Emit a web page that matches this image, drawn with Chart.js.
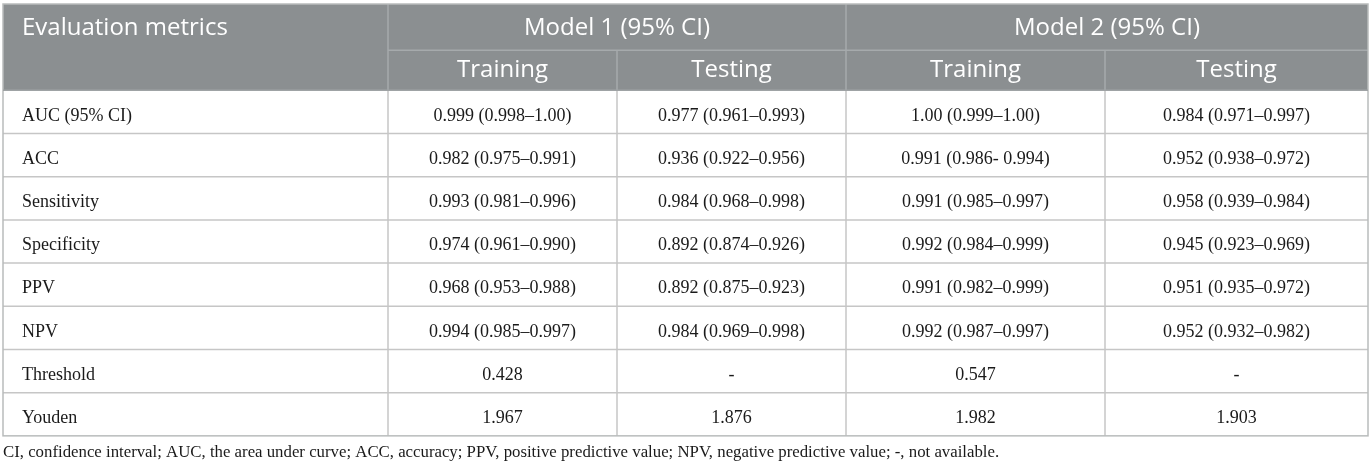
<!DOCTYPE html>
<html>
<head>
<meta charset="utf-8">
<script src="https://cdn.jsdelivr.net/npm/chart.js@4.4.0/dist/chart.umd.min.js"></script>
<style>
  html, body { margin: 0; padding: 0; background: #fff; }
  #wrap { width: 1372px; height: 467px; }
</style>
</head>
<body>
<div id="wrap"><canvas id="table-canvas"></canvas></div>
<script>
// table content
var metrics = ["AUC (95% CI)", "ACC", "Sensitivity", "Specificity", "PPV", "NPV", "Threshold", "Youden"];
var firstHeader = "Evaluation metrics";
var groups = ["Model 1 (95% CI)", "Model 2 (95% CI)"];
var phases = ["Training", "Testing", "Training", "Testing"];
var model1Training = ["0.999 (0.998\u20131.00)", "0.982 (0.975\u20130.991)", "0.993 (0.981\u20130.996)", "0.974 (0.961\u20130.990)", "0.968 (0.953\u20130.988)", "0.994 (0.985\u20130.997)", "0.428", "1.967"];
var model1Testing = ["0.977 (0.961\u20130.993)", "0.936 (0.922\u20130.956)", "0.984 (0.968\u20130.998)", "0.892 (0.874\u20130.926)", "0.892 (0.875\u20130.923)", "0.984 (0.969\u20130.998)", "-", "1.876"];
var model2Training = ["1.00 (0.999\u20131.00)", "0.991 (0.986- 0.994)", "0.991 (0.985\u20130.997)", "0.992 (0.984\u20130.999)", "0.991 (0.982\u20130.999)", "0.992 (0.987\u20130.997)", "0.547", "1.982"];
var model2Testing = ["0.984 (0.971\u20130.997)", "0.952 (0.938\u20130.972)", "0.958 (0.939\u20130.984)", "0.945 (0.923\u20130.969)", "0.951 (0.935\u20130.972)", "0.952 (0.932\u20130.982)", "-", "1.903"];
var footnote = "CI, confidence interval; AUC, the area under curve; ACC, accuracy; PPV, positive predictive value; NPV, negative predictive value; -, not available.";

// layout: column edges in x-scale units
var colEdges = [0, 385, 614, 843, 1102, 1365];

var rowLabels = ["head1", "head2"].concat(metrics);
var columns = [model1Training, model1Testing, model2Training, model2Testing];

var headerFont = '24px "Open Sans"';
var bodyFont = '18px "Liberation Serif"';
var headSplitShift = 3;   // first header row is a bit taller than the second

var tablePlugin = {
    id: 'tableDraw',
    beforeDraw: function (chart) {
        var c = chart.ctx, y = chart.scales.y;
        var band = y.height / rowLabels.length;
        var area = chart.chartArea;
        var headBottom = y.getPixelForValue(1) + band / 2;
        c.save();
        c.fillStyle = '#8b8f91';
        c.fillRect(area.left, area.top, area.right - area.left, headBottom - area.top);
        c.restore();
    },
    afterDraw: function (chart) {
        var c = chart.ctx, x = chart.scales.x, y = chart.scales.y;
        var band = y.height / rowLabels.length;
        var area = chart.chartArea;
        var rowEdge = function (i) { return y.getPixelForValue(i) - band / 2; };
        var colX = function (i) { return x.getPixelForValue(colEdges[i]); };
        var headSplit = rowEdge(1) + headSplitShift, headBottom = rowEdge(2);

        c.save();
        c.lineWidth = 1.5;
        // header inner lines
        c.strokeStyle = '#a6aaac';
        c.beginPath();
        c.moveTo(colX(1), headSplit); c.lineTo(area.right, headSplit);
        [1, 3].forEach(function (i) { c.moveTo(colX(i), area.top); c.lineTo(colX(i), headBottom); });
        [2, 4].forEach(function (i) { c.moveTo(colX(i), headSplit); c.lineTo(colX(i), headBottom); });
        c.stroke();

        // body lines
        c.strokeStyle = '#c6c6c6';
        c.beginPath();
        for (var r = 3; r < rowLabels.length; r++) {
            c.moveTo(area.left, rowEdge(r)); c.lineTo(area.right, rowEdge(r));
        }
        for (var k = 1; k < colEdges.length - 1; k++) {
            c.moveTo(colX(k), headBottom); c.lineTo(colX(k), area.bottom);
        }
        c.stroke();

        // outer border
        c.strokeStyle = '#b9bcbc';
        c.strokeRect(area.left, area.top, area.right - area.left, area.bottom - area.top);
        c.strokeStyle = '#9fa3a5';
        c.beginPath();
        c.moveTo(area.left, headBottom); c.lineTo(area.right, headBottom);
        c.stroke();

        // header text
        var row1 = y.getPixelForValue(0) + 2.5, row2 = y.getPixelForValue(1) + 1.5;
        c.fillStyle = '#ffffff';
        c.font = headerFont;
        c.textBaseline = 'middle';
        c.textAlign = 'left';
        c.fillText(firstHeader, colX(0) + 19, row1);
        c.textAlign = 'center';
        groups.forEach(function (g, i) {
            c.fillText(g, (colX(1 + 2 * i) + colX(3 + 2 * i)) / 2, row1);
        });
        phases.forEach(function (p, i) {
            c.fillText(p, (colX(1 + i) + colX(2 + i)) / 2, row2);
        });

        // body text
        c.fillStyle = '#1a1a1a';
        c.font = bodyFont;
        metrics.forEach(function (m, r) {
            var yy = y.getPixelForValue(r + 2) + 4;
            c.textAlign = 'left';
            c.fillText(m, colX(0) + 19, yy);
            c.textAlign = 'center';
            columns.forEach(function (col, i) {
                c.fillText(col[r], (colX(1 + i) + colX(2 + i)) / 2, yy);
            });
        });
        c.restore();
    }
};

var ctx = document.getElementById('table-canvas').getContext('2d');
var myChart = new Chart(ctx, {
    type: 'scatter',
    data: { datasets: [] },
    options: {
        responsive: true,
        maintainAspectRatio: false,
        animation: false,
        layout: { padding: { left: 3, right: 4, top: 4, bottom: 0 } },
        scales: {
            x: { type: 'linear', min: colEdges[0], max: colEdges[colEdges.length - 1], display: false },
            y: { type: 'category', labels: rowLabels, offset: true, display: false }
        },
        plugins: {
            legend: { display: false },
            tooltip: { enabled: false },
            subtitle: {
                display: true,
                position: 'bottom',
                align: 'start',
                text: footnote,
                color: '#1a1a1a',
                font: { family: '"Liberation Serif"', size: 16.8 },
                padding: { top: 7, bottom: 4 }
            }
        }
    },
    plugins: [tablePlugin]
});
</script>
</body>
</html>
